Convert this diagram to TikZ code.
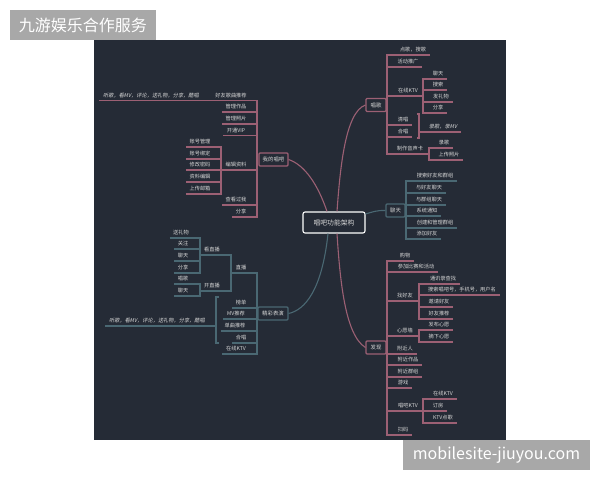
\documentclass[tikz,border=0pt]{standalone}
\usepackage{fontspec}
\setmainfont{Noto Sans CJK SC}
\newfontfamily\slantcjk[FakeSlant=0.2]{Noto Sans CJK SC}
\definecolor{boardbg}{HTML}{252B36}
\definecolor{roseline}{HTML}{9C6074}
\definecolor{tealline}{HTML}{4A6873}
\definecolor{leaftext}{HTML}{D6D6D6}
\definecolor{markgray}{HTML}{A8A8A8}
\tikzset{
  leaf/.style={anchor=south, inner xsep=3.5pt, inner ysep=2.1pt, text height=5pt, text depth=1pt, text=leaftext, font=\fontsize{5.2}{6}\selectfont},
  hub/.style={draw, rounded corners=1pt, line width=1.1pt, fill=boardbg, text=leaftext, minimum height=13pt, inner sep=0pt, font=\fontsize{5.4}{6}\selectfont},
  roseedge/.style={draw=roseline, line width=1.1pt},
  tealedge/.style={draw=tealline, line width=1.1pt},
  wmark/.style={fill=markgray, text=white, inner sep=0pt, font=\fontsize{16}{18}\selectfont}
}
\begin{document}
\begin{tikzpicture}[x=1pt,y=-1pt]
    \useasboundingbox (0,0) rectangle (600,480);
    \fill[boardbg] (94,40) rectangle (506,440);
    \node[wmark,minimum width=146pt,minimum height=30pt] (marktop) at (83,25) {九游娱乐合作服务};
    \node[wmark,minimum width=187pt,minimum height=30pt] (markbot) at (496.5,455) {mobilesite-jiuyou.com};

    \node[draw=white,rounded corners=2pt,line width=1.1pt,fill=boardbg,text=leaftext,minimum width=62pt,minimum height=21pt,inner sep=0pt,font=\fontsize{6.8}{8}\selectfont] (root) at (334,222.5) {唱吧功能架构};
    \node[hub,draw=roseline,minimum width=29pt] (mine) at (273.5,159.5) {我的唱吧};
    \node[hub,draw=roseline,minimum width=20pt] (sing) at (376,105) {唱歌};
    \node[hub,draw=tealline,minimum width=19pt] (chat) at (395.5,210.5) {聊天};
    \node[hub,draw=roseline,minimum width=20pt] (find) at (376,347.5) {发现};
    \node[hub,draw=tealline,minimum width=30pt] (show) at (273,313.5) {精彩表演};

    \draw[roseedge] (mine.east) .. controls (305,165) and (318,185) .. (root.north -| 327,0);
    \draw[roseedge] (sing.west) .. controls (345,112) and (340,170) .. (root.north -| 337,0);
    \draw[tealedge] (chat.west) .. controls (378,210) and (372,212) .. (root.east |- 0,214);
    \draw[roseedge] (find.west) .. controls (345,335) and (340,280) .. (root.south -| 337,0);
    \draw[tealedge] (show.east) .. controls (305,310) and (322,290) .. (root.south -| 328,0);

    % my page
    \coordinate (minetrunk) at (257,159.5);
    \coordinate (edittrunk) at (221,170);
    \node[leaf,font=\slantcjk\fontsize{5.2}{6}\selectfont,minimum width=102pt] (m0) at (151,100.7) {听歌，看MV，评论，送礼物，分享，酷唱};
    \node[leaf] (m1) at (231,100.7) {好友歌曲推荐};
    \node[leaf] (m2) at (236,112) {管理作品};
    \node[leaf] (m3) at (236,124) {管理照片};
    \node[leaf] (m4) at (236,135.7) {开通VIP};
    \node[leaf] (m5) at (236,170) {编辑资料};
    \node[leaf] (m6) at (236,205) {查看过我};
    \node[leaf] (m7) at (241,217) {分享};
    \node[leaf] (e1) at (200,147) {账号管理};
    \node[leaf] (e2) at (200,159) {账号绑定};
    \node[leaf] (e3) at (200,170) {修改密码};
    \node[leaf] (e4) at (200,182) {资料编辑};
    \node[leaf] (e5) at (200,194) {上传邮箱};
    \draw[roseedge] (mine.west) -- (minetrunk);
    \foreach \n in {m0,m2,m3,m4,m6,m7}
        \draw[roseedge] (\n.south west) -| (minetrunk);
    \draw[roseedge] (edittrunk) -| (minetrunk);
    \foreach \n in {e1,e2,e3,e4,e5}
        \draw[roseedge] (\n.south west) -| (edittrunk);

    % singing
    \coordinate (singtrunk) at (387,105);
    \coordinate (ktvtrunk) at (423,96);
    \coordinate (cardtrunk) at (429,154);
    \node[leaf] (s1) at (413,55) {点歌，搜歌};
    \node[leaf] (s2) at (408,67) {活动推广};
    \node[leaf] (s3) at (408,96) {在线KTV};
    \node[leaf] (s4) at (403,125) {清唱};
    \node[leaf] (s5) at (403,137) {合唱};
    \node[leaf] (s6) at (410,154) {制作音声卡};
    \node[leaf] (k1) at (438,79) {聊天};
    \node[leaf] (k2) at (438,90) {搜索};
    \node[leaf] (k3) at (441,102) {发礼物};
    \node[leaf] (k4) at (438,113) {分享};
    \node[leaf] (c1) at (444,148) {录歌};
    \node[leaf] (c2) at (449,160) {上传照片};
    \node[leaf,font=\slantcjk\fontsize{5.2}{6}\selectfont] (r1) at (443,132) {录歌，录MV};
    \draw[roseedge] (sing.east) -- (singtrunk);
    \foreach \n in {s1,s2,s4,s5}
        \draw[roseedge] (\n.south east) -| (singtrunk);
    \draw[roseedge] (ktvtrunk) -| (singtrunk);
    \draw[roseedge] (cardtrunk) -| (singtrunk);
    \foreach \n in {k1,k2,k3,k4}
        \draw[roseedge] (\n.south east) -| (ktvtrunk);
    \foreach \n in {c1,c2}
        \draw[roseedge] (\n.south east) -| (cardtrunk);
    \draw[roseedge] (417,114) -- (419,114) -- (419,138) -- (417,138);
    \draw[roseedge] (r1.south east) -- (r1.south west) -- (419,132);

    % chat
    \coordinate (chattrunk) at (406,210.5);
    \node[leaf] (t1) at (435,181) {搜索好友和群组};
    \node[leaf] (t2) at (429,193) {与好友聊天};
    \node[leaf] (t3) at (429,205) {与群组聊天};
    \node[leaf] (t4) at (427,216) {系统通知};
    \node[leaf] (t5) at (435,228) {创建和管理群组};
    \node[leaf] (t6) at (427,239) {添加好友};
    \draw[tealedge] (chat.east) -- (chattrunk);
    \foreach \n in {t1,t2,t3,t4,t5,t6}
        \draw[tealedge] (\n.south east) -| (chattrunk);

    % discover
    \coordinate (findtrunk) at (387,347.5);
    \coordinate (friendtrunk) at (419,301);
    \coordinate (wishtrunk) at (419,336);
    \coordinate (barktv) at (423,411);
    \node[leaf] (f1) at (405,261) {购物};
    \node[leaf] (f2) at (416,272) {参加比赛和活动};
    \node[leaf] (f3) at (405,301) {找好友};
    \node[leaf] (f4) at (405,336) {心愿墙};
    \node[leaf] (f5) at (405,354) {附近人};
    \node[leaf] (f6) at (408,365) {附近作品};
    \node[leaf] (f7) at (408,377) {附近群组};
    \node[leaf] (f8) at (403,388) {游戏};
    \node[leaf] (f9) at (408,411) {唱吧KTV};
    \node[leaf] (f10) at (403,435) {扫码};
    \node[leaf] (a1) at (443,284) {通讯录查找};
    \node[leaf] (a2) at (462,295) {搜索唱吧号，手机号，用户名};
    \node[leaf] (a3) at (439,307) {邀请好友};
    \node[leaf] (a4) at (439,319) {好友推荐};
    \node[leaf] (w1) at (439,330) {发布心愿};
    \node[leaf] (w2) at (439,342) {摘下心愿};
    \node[leaf] (b1) at (443,399) {在线KTV};
    \node[leaf] (b2) at (438,411) {订房};
    \node[leaf] (b3) at (443,423) {KTV点歌};
    \draw[roseedge] (find.east) -- (findtrunk);
    \foreach \n in {f1,f2,f5,f6,f7,f8,f10}
        \draw[roseedge] (\n.south east) -| (findtrunk);
    \draw[roseedge] (friendtrunk) -| (findtrunk);
    \draw[roseedge] (wishtrunk) -| (findtrunk);
    \draw[roseedge] (barktv) -| (findtrunk);
    \foreach \n in {a1,a2,a3,a4}
        \draw[roseedge] (\n.south east) -| (friendtrunk);
    \foreach \n in {w1,w2}
        \draw[roseedge] (\n.south east) -| (wishtrunk);
    \foreach \n in {b1,b2,b3}
        \draw[roseedge] (\n.south east) -| (barktv);

    % shows
    \coordinate (showtrunk) at (257,313.5);
    \coordinate (livetrunk) at (231,273);
    \coordinate (watchtrunk) at (200,255);
    \coordinate (opentrunk) at (200,291);
    \node[leaf] (p1) at (241,273) {直播};
    \node[leaf] (p2) at (241,308) {榜单};
    \node[leaf] (p3) at (236,319) {MV推荐};
    \node[leaf] (p4) at (235,331) {单曲推荐};
    \node[leaf] (p5) at (241,343) {合唱};
    \node[leaf] (p6) at (236,354) {在线KTV};
    \node[leaf] (l1) at (212,255) {看直播};
    \node[leaf] (l2) at (212,291) {开直播};
    \node[leaf] (v1) at (181,238) {送礼物};
    \node[leaf] (v2) at (183,249) {关注};
    \node[leaf] (v3) at (183,261) {聊天};
    \node[leaf] (v4) at (183,273) {分享};
    \node[leaf] (o1) at (183,284) {唱歌};
    \node[leaf] (o2) at (183,296) {聊天};
    \node[leaf,font=\slantcjk\fontsize{5.2}{6}\selectfont,minimum width=102pt] (q1) at (157,326) {听歌，看MV，评论，送礼物，分享，酷唱};
    \draw[tealedge] (show.west) -- (showtrunk);
    \foreach \n in {p2,p3,p4,p5,p6}
        \draw[tealedge] (\n.south west) -| (showtrunk);
    \draw[tealedge] (livetrunk) -| (showtrunk);
    \draw[tealedge] (watchtrunk) -| (livetrunk);
    \draw[tealedge] (opentrunk) -| (livetrunk);
    \foreach \n in {v1,v2,v3,v4}
        \draw[tealedge] (\n.south west) -| (watchtrunk);
    \foreach \n in {o1,o2}
        \draw[tealedge] (\n.south west) -| (opentrunk);
    \draw[tealedge] (219,297) -- (216,297) -- (216,343) -- (219,343);
    \draw[tealedge] (q1.south west) -- (216,326);
\end{tikzpicture}
\end{document}
